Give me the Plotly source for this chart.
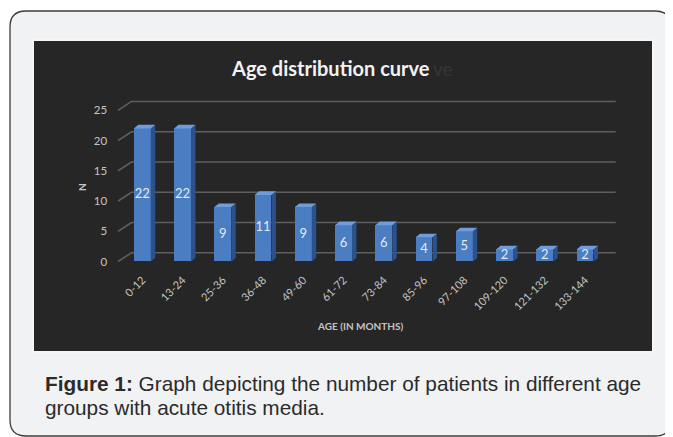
import plotly.graph_objects as go

# ---------------- data ----------------
categories = ["0-12", "13-24", "25-36", "36-48", "49-60", "61-72",
              "73-84", "85-96", "97-108", "109-120", "121-132", "133-144"]
counts = [22, 22, 9, 11, 9, 6, 6, 4, 5, 2, 2, 2]
y_ticks = [0, 5, 10, 15, 20, 25]
title_text = "Age distribution curve"
x_title = "AGE (IN MONTHS)"
y_title = "N"
caption_bold = "Figure 1:"
caption_line1 = " Graph depicting the number of patients in different age"
caption_line2 = "groups with acute otitis media."

# page body has an 8px margin; figure sized to fit the window
OFF = 8
W, H = 673 - OFF, 437 - OFF


def px(x):
    return (x - OFF) / W


def py(y):
    return 1 - (y - OFF) / H


xs = list(range(len(categories)))
bar_w = 0.42
dx = 0.11    # depth offset (x units)
dy = 0.6     # depth offset (y units)
grid_depth = 1.45

fig = go.Figure()

# front faces
fig.add_trace(go.Bar(
    x=xs, y=counts, width=bar_w,
    marker=dict(color="#4a7dc2", line=dict(width=0)),
    hoverinfo="skip", showlegend=False,
))

# side faces
sx, sy = [], []
for x, v in zip(xs, counts):
    r = x + bar_w / 2
    sx += [r, r + dx, r + dx, r, r, None]
    sy += [0, dy, v + dy, v, 0, None]
fig.add_trace(go.Scatter(x=sx, y=sy, mode="lines", fill="toself",
                         fillcolor="#2b528a", line=dict(width=0, color="#2b528a"),
                         hoverinfo="skip", showlegend=False))

# top faces
tx, ty = [], []
for x, v in zip(xs, counts):
    l = x - bar_w / 2
    r = x + bar_w / 2
    tx += [l, l + dx, r + dx, r, l, None]
    ty += [v, v + dy, v + dy, v, v, None]
fig.add_trace(go.Scatter(x=tx, y=ty, mode="lines", fill="toself",
                         fillcolor="#6f9ddc", line=dict(width=0, color="#6f9ddc"),
                         hoverinfo="skip", showlegend=False))

# value labels in the middle of each bar
fig.add_trace(go.Scatter(
    x=xs, y=[v / 2 for v in counts], mode="text",
    text=[str(c) for c in counts],
    textfont=dict(family="Lato, Open Sans, sans-serif", size=13, color="#e2eaf6"),
    hoverinfo="skip", showlegend=False,
))

# ---------------- background shapes ----------------
bx0, by0, bx1, by1, r = 10, 11, 671, 436, 16
box_path = (
    f"M {px(bx0)},{py(by0 + r)} "
    f"Q {px(bx0)},{py(by0)} {px(bx0 + r)},{py(by0)} "
    f"L {px(bx1 - r)},{py(by0)} "
    f"Q {px(bx1)},{py(by0)} {px(bx1)},{py(by0 + r)} "
    f"L {px(bx1)},{py(by1 - r)} "
    f"Q {px(bx1)},{py(by1)} {px(bx1 - r)},{py(by1)} "
    f"L {px(bx0 + r)},{py(by1)} "
    f"Q {px(bx0)},{py(by1)} {px(bx0)},{py(by1 - r)} Z"
)
shapes = [
    dict(type="path", path=box_path, xref="paper", yref="paper",
         fillcolor="#f1f2f4", line=dict(color="#3c3c3c", width=1.3), layer="below"),
    dict(type="rect", xref="paper", yref="paper",
         x0=px(33), x1=px(653), y0=py(352), y1=py(40),
         fillcolor="#262626", line=dict(color="#f6f6f6", width=2), layer="below"),
]
# back-wall gridlines with floor diagonals, drawn behind the bars
for t in y_ticks:
    shapes.append(dict(
        type="path", xref="x", yref="y", layer="below",
        path=f"M -0.6,{t} L -0.27,{t + grid_depth} L 11.76,{t + grid_depth}",
        line=dict(color="#5e5e5e", width=1.6),
    ))

annotations = [
    dict(text=f"<b>{title_text}</b>", x=px(330), y=py(68), xref="paper", yref="paper",
         showarrow=False, xanchor="center", yanchor="middle",
         font=dict(family="Lato, sans-serif", size=20, color="#f2f2f2")),
    dict(text="ve", x=px(431), y=py(68), xref="paper", yref="paper",
         showarrow=False, xanchor="left", yanchor="middle",
         font=dict(family="Lato, sans-serif", size=19, color="#353535")),
    dict(text=f"<b>{x_title}</b>", x=px(360), y=py(326), xref="paper", yref="paper",
         showarrow=False, xanchor="center", yanchor="middle",
         font=dict(family="Lato, sans-serif", size=10, color="#c4c4c4")),
    dict(text=f"<b>{y_title}</b>", x=px(82), y=py(187), xref="paper", yref="paper",
         showarrow=False, xanchor="center", yanchor="middle", textangle=-90,
         font=dict(family="Lato, sans-serif", size=10, color="#c4c4c4")),
    dict(text=f"<b>{caption_bold}</b>{caption_line1}", x=px(43), y=py(383),
         xref="paper", yref="paper", showarrow=False, xanchor="left", yanchor="middle",
         font=dict(family="Liberation Sans, Arial, sans-serif", size=20.8, color="#2b2b2b")),
    dict(text=caption_line2, x=px(43), y=py(407),
         xref="paper", yref="paper", showarrow=False, xanchor="left", yanchor="middle",
         font=dict(family="Liberation Sans, Arial, sans-serif", size=20.8, color="#2b2b2b")),
]

fig.update_layout(
    width=W, height=H,
    margin=dict(l=0, r=0, t=0, b=0),
    paper_bgcolor="#ffffff",
    plot_bgcolor="rgba(0,0,0,0)",
    shapes=shapes,
    annotations=annotations,
    bargap=0,
    xaxis=dict(domain=[px(108.1), px(618.1)], range=[-0.85, 11.82],
               tickmode="array", tickvals=xs, ticktext=categories, tickangle=-45,
               showgrid=False, zeroline=False, showline=False, ticks="",
               tickfont=dict(family="Lato, sans-serif", size=11, color="#c4c4c4")),
    yaxis=dict(domain=[py(270.6), py(95.1)], range=[-1.5, 27.5],
               tickmode="array", tickvals=y_ticks, ticktext=[str(t) for t in y_ticks],
               showgrid=False, zeroline=False, showline=False, ticks="",
               tickfont=dict(family="Lato, sans-serif", size=11.5, color="#c4c4c4")),
)

fig.write_html("out.html")
